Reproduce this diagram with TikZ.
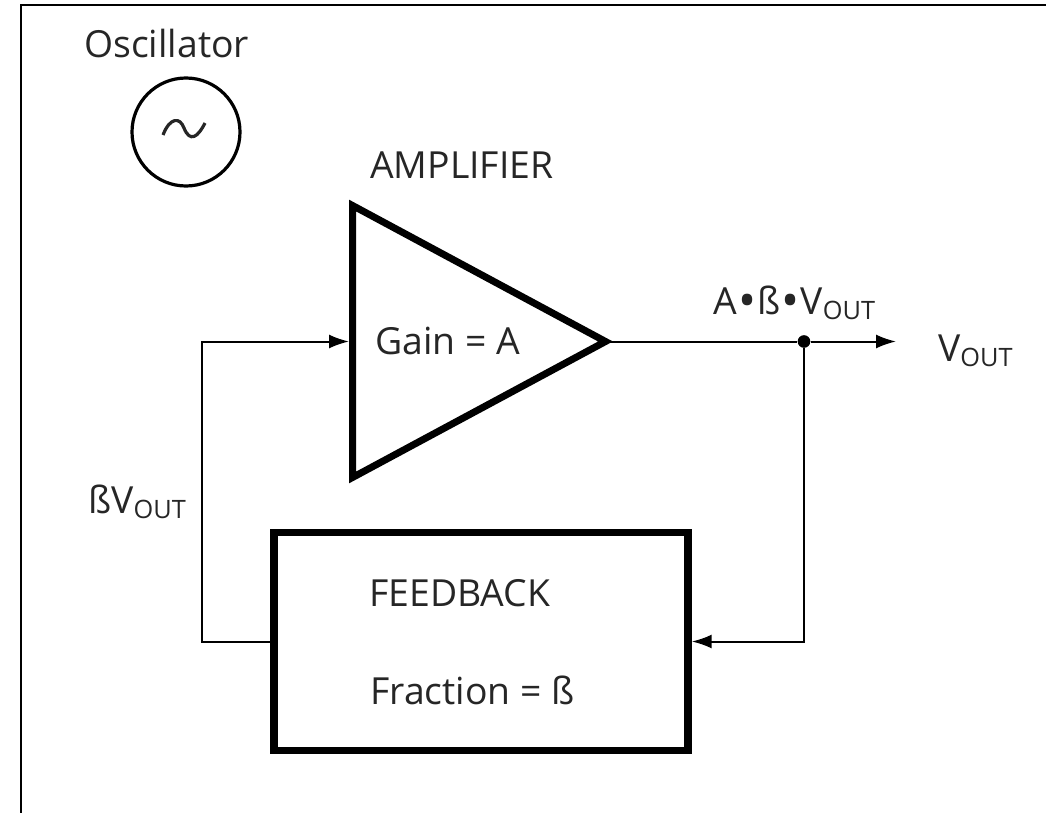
\documentclass[tikz,border=0pt]{standalone}
\usepackage{fontspec}
\setmainfont{Open Sans}
\usetikzlibrary{arrows.meta,shapes.geometric}
\newcommand{\vout}{V\raisebox{-0.16em}{\fontsize{19}{22}\selectfont OUT}}
\newcommand{\mdot}{\kern0.03em\raisebox{-0.1em}{\fontsize{36}{36}\selectfont •}\kern0.03em}
\begin{document}
\begin{tikzpicture}[x=0.75pt,y=-0.75pt,
  lbl/.style={inner sep=0pt, anchor=base west, font=\fontsize{28}{32}\selectfont, text=black!85},
  line/.style={line width=1.5pt},
  arrow/.style={line, -{Latex[length=15pt,width=10.5pt]}},
  heavy/.style={draw, line width=#1, fill=white, inner sep=0pt},
  amp/.style={heavy=5.25pt, shape=isosceles triangle, isosceles triangle stretches,
              shape border rotate=0, minimum height=189.75pt, minimum width=204pt},
  dot/.style={circle, fill=black, inner sep=0pt, minimum size=9.5pt}
]
\path[use as bounding box] (0,0) rectangle (1046,813);
\draw[line width=1.6pt] (21,813) -- (21,5) -- (1046,5);
% oscillator
\node[lbl] (osclbl) at (84,58) {Oscillator};
\node[circle, draw, line width=2.4pt, minimum size=81pt, inner sep=0pt] (osc) at (186,132) {};
\draw[line width=2.4pt, black!85] (163,135) .. controls (170,117) and (180,117) .. (184,128) .. controls (190,143) and (198,137) .. (205,123);
% blocks
\node[amp, anchor=lower side] (amp) at (349,341.5) {};
\node[heavy=5.6pt, minimum width=310.5pt, minimum height=163.5pt] (fb) at (481,641.5) {};
\node[lbl] (amplbl) at (370,179) {AMPLIFIER};
\node[lbl] (gain) at (375,354) {Gain = A};
\node[lbl] (fblbl) at (369,606) {FEEDBACK};
\node[lbl] (frac) at (370,704) {Fraction = ß};
% signals
\node[dot] (tap) at (804,341.5) {};
\coordinate (outend) at (896,341.5);
\coordinate (bend) at (202,341.5);
\node[lbl] (sig) at (713,314) {A\mdot ß\mdot\vout};
\node[lbl] (vout) at (938,361) {\vout};
\node[lbl] (bvout) at (88,513) {ß\vout};
\draw[line, shorten <=-5pt] (amp.apex) -- (tap);
\draw[arrow] (tap) -- (outend);
\draw[arrow] (tap) |- (fb.east);
\draw[arrow] (fb.west) -| (bend) -- (amp.lower side);
\end{tikzpicture}
\end{document}
